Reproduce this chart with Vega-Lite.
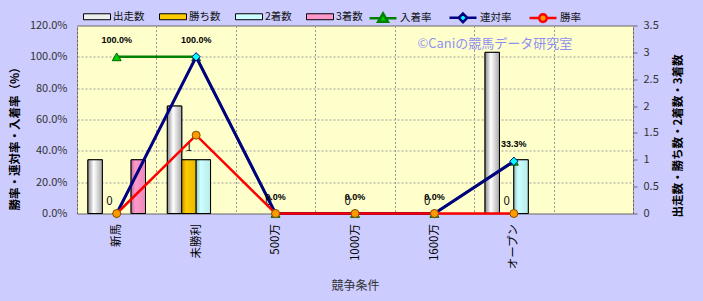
{
  "$schema": "https://vega.github.io/schema/vega-lite/v6.json",
  "width": 556,
  "height": 188,
  "autosize": {"type": "none"},
  "padding": {"left": 77, "top": 25.5, "right": 70, "bottom": 87.5},
  "background": "#CCCCFF",
  "config": {
    "font": "Noto Sans CJK JP",
    "view": {"fill": "#FFFFCC", "stroke": "#666666", "strokeWidth": 1}
  },
  "data": {
    "values": [
      {"cat": "新馬", "出走数": 1, "勝ち数": 0, "2着数": 0, "3着数": 1, "入着率": 1, "連対率": 0, "勝率": 0},
      {"cat": "未勝利", "出走数": 2, "勝ち数": 1, "2着数": 1, "3着数": 0, "入着率": 1, "連対率": 1, "勝率": 0.5},
      {"cat": "500万", "出走数": 0, "勝ち数": 0, "2着数": 0, "3着数": 0, "入着率": 0, "連対率": 0, "勝率": 0},
      {"cat": "1000万", "出走数": 0, "勝ち数": 0, "2着数": 0, "3着数": 0, "入着率": 0, "連対率": 0, "勝率": 0},
      {"cat": "1600万", "出走数": 0, "勝ち数": 0, "2着数": 0, "3着数": 0, "入着率": 0, "連対率": 0, "勝率": 0},
      {"cat": "オープン", "出走数": 3, "勝ち数": 0, "2着数": 1, "3着数": 0, "入着率": 0.333, "連対率": 0.333, "勝率": 0}
    ]
  },
  "layer": [
    {
      "transform": [{"fold": ["出走数", "勝ち数", "2着数", "3着数"], "as": ["key", "value"]}],
      "layer": [
        {
          "transform": [{"filter": "datum.value > 0"}],
          "mark": {"type": "bar", "stroke": "#000000", "strokeWidth": 1},
          "encoding": {
            "x": {
              "field": "cat", "type": "nominal",
              "scale": {"domain": ["新馬", "未勝利", "500万", "1000万", "1600万", "オープン", " "], "paddingInner": 0, "paddingOuter": 0},
              "axis": {
                "title": "競争条件", "labelAngle": 270, "labelPadding": 10, "labelFontSize": 11.5, "labelColor": "#000000",
                "ticks": false, "domain": false, "grid": true, "tickBand": "extent", "gridDash": [2, 2], "gridColor": "#999999",
                "titleFontSize": 12, "titleFontWeight": "normal", "titleColor": "#333333", "titleY": 72, "titleBaseline": "middle"
              }
            },
            "xOffset": {"field": "key", "type": "nominal", "scale": {"domain": ["出走数", "勝ち数", "2着数", "3着数"], "paddingInner": 0, "paddingOuter": 0.758}},
            "y": {
              "field": "value", "type": "quantitative",
              "scale": {"domain": [0, 3.5]},
              "axis": {
                "orient": "right", "values": [0, 0.5, 1, 1.5, 2, 2.5, 3, 3.5], "tickCount": 20, "format": "~g", "labelOverlap": false, "grid": false, "domain": false,
                "ticks": true, "tickSize": 4, "tickColor": "#666666", "labelPadding": 6, "labelFontSize": 11, "labelColor": "#333333",
                "title": "出走数・勝ち数・2着数・3着数", "titleFontSize": 11.5, "titleFontWeight": "bold", "titleColor": "#000000",
                "titleAngle": 270, "titleX": 45, "titleY": 110, "titleAlign": "center", "titleBaseline": "middle"
              }
            },
            "fill": {
              "field": "key", "type": "nominal",
              "scale": {"domain": ["出走数", "勝ち数", "2着数", "3着数"], "range": ["#EEEEEE", "#FFCC00", "#CCFFFF", "#FF99CC"]},
              "legend": {
                "title": null, "orient": "none", "legendX": 6, "legendY": -23, "direction": "horizontal",
                "symbolType": "M-1,-0.22H1V0.22H-1Z", "symbolSize": 729, "symbolStrokeColor": "#000000", "symbolStrokeWidth": 1,
                "labelFontSize": 10.5, "labelColor": "#111111", "labelOffset": 2, "columnPadding": 12, "padding": 0
              }
            }
          }
        },
        {
          "transform": [{"filter": "datum.key === '出走数' && datum.value > 0"}],
          "mark": {"type": "bar", "stroke": "#000000", "strokeWidth": 1,
            "fill": {"gradient": "linear", "x1": 0, "y1": 0, "x2": 1, "y2": 0,
              "stops": [{"offset": 0, "color": "#8A8A8A"}, {"offset": 0.4, "color": "#FFFFFF"}, {"offset": 1, "color": "#A8A8A8"}]}},
          "encoding": {
            "x": {"field": "cat", "type": "nominal", "scale": {"domain": ["新馬", "未勝利", "500万", "1000万", "1600万", "オープン", " "], "paddingInner": 0, "paddingOuter": 0}},
            "xOffset": {"field": "key", "type": "nominal", "scale": {"domain": ["出走数", "勝ち数", "2着数", "3着数"], "paddingInner": 0, "paddingOuter": 0.758}},
            "y": {"field": "value", "type": "quantitative", "scale": {"domain": [0, 3.5]}}
          }
        },
        {
          "transform": [{"filter": "datum.key === '勝ち数' && datum.value > 0"}],
          "mark": {"type": "bar", "stroke": "#000000", "strokeWidth": 1,
            "fill": {"gradient": "linear", "x1": 0, "y1": 0, "x2": 1, "y2": 0,
              "stops": [{"offset": 0, "color": "#C09000"}, {"offset": 0.3, "color": "#FFCC00"}, {"offset": 1, "color": "#E8B800"}]}},
          "encoding": {
            "x": {"field": "cat", "type": "nominal", "scale": {"domain": ["新馬", "未勝利", "500万", "1000万", "1600万", "オープン", " "], "paddingInner": 0, "paddingOuter": 0}},
            "xOffset": {"field": "key", "type": "nominal", "scale": {"domain": ["出走数", "勝ち数", "2着数", "3着数"], "paddingInner": 0, "paddingOuter": 0.758}},
            "y": {"field": "value", "type": "quantitative", "scale": {"domain": [0, 3.5]}}
          }
        },
        {
          "transform": [{"filter": "datum.key === '2着数' && datum.value > 0"}],
          "mark": {"type": "bar", "stroke": "#000000", "strokeWidth": 1,
            "fill": {"gradient": "linear", "x1": 0, "y1": 0, "x2": 1, "y2": 0,
              "stops": [{"offset": 0, "color": "#99C4C4"}, {"offset": 0.3, "color": "#CCFFFF"}, {"offset": 1, "color": "#B8EAEA"}]}},
          "encoding": {
            "x": {"field": "cat", "type": "nominal", "scale": {"domain": ["新馬", "未勝利", "500万", "1000万", "1600万", "オープン", " "], "paddingInner": 0, "paddingOuter": 0}},
            "xOffset": {"field": "key", "type": "nominal", "scale": {"domain": ["出走数", "勝ち数", "2着数", "3着数"], "paddingInner": 0, "paddingOuter": 0.758}},
            "y": {"field": "value", "type": "quantitative", "scale": {"domain": [0, 3.5]}}
          }
        },
        {
          "transform": [{"filter": "datum.key === '3着数' && datum.value > 0"}],
          "mark": {"type": "bar", "stroke": "#000000", "strokeWidth": 1,
            "fill": {"gradient": "linear", "x1": 0, "y1": 0, "x2": 1, "y2": 0,
              "stops": [{"offset": 0, "color": "#C0709A"}, {"offset": 0.3, "color": "#FF99CC"}, {"offset": 1, "color": "#E888B8"}]}},
          "encoding": {
            "x": {"field": "cat", "type": "nominal", "scale": {"domain": ["新馬", "未勝利", "500万", "1000万", "1600万", "オープン", " "], "paddingInner": 0, "paddingOuter": 0}},
            "xOffset": {"field": "key", "type": "nominal", "scale": {"domain": ["出走数", "勝ち数", "2着数", "3着数"], "paddingInner": 0, "paddingOuter": 0.758}},
            "y": {"field": "value", "type": "quantitative", "scale": {"domain": [0, 3.5]}}
          }
        },
        {
          "transform": [{"filter": "datum.key === '勝ち数'"}],
          "mark": {"type": "text", "dy": -12, "fontSize": 11.5, "color": "#111111"},
          "encoding": {
            "x": {"field": "cat", "type": "nominal", "scale": {"domain": ["新馬", "未勝利", "500万", "1000万", "1600万", "オープン", " "], "paddingInner": 0, "paddingOuter": 0}},
            "xOffset": {"field": "key", "type": "nominal", "scale": {"domain": ["出走数", "勝ち数", "2着数", "3着数"], "paddingInner": 0, "paddingOuter": 0.758}},
            "y": {"field": "value", "type": "quantitative", "scale": {"domain": [0, 3.5]}},
            "text": {"field": "value", "type": "quantitative"}
          }
        }
      ]
    },
    {
      "layer": [
        {
          "mark": {"type": "line", "strokeWidth": 2.5},
          "encoding": {
            "x": {"field": "cat", "type": "nominal", "scale": {"domain": ["新馬", "未勝利", "500万", "1000万", "1600万", "オープン", " "], "paddingInner": 0, "paddingOuter": 0}},
            "y": {
              "field": "入着率", "type": "quantitative", "scale": {"domain": [0, 1.2]},
              "axis": {
                "orient": "left", "values": [0, 0.2, 0.4, 0.6, 0.8, 1, 1.2], "tickCount": 20, "format": ".1%", "labelOverlap": false,
                "grid": true, "gridDash": [2, 2], "gridColor": "#999999",
                "gridOpacity": {"condition": {"test": "datum.value <= 0.001 || datum.value >= 1.199", "value": 0}, "value": 1},
                "ticks": false, "domain": false, "labelPadding": 10, "labelFontSize": 11, "labelColor": "#333333",
                "title": "勝率・連対率・入着率（%）", "titleFontSize": 11.5, "titleFontWeight": "bold", "titleColor": "#000000",
                "titleAngle": 270, "titleX": -62, "titleY": 110, "titleAlign": "center", "titleBaseline": "middle"
              }
            },
            "stroke": {
              "datum": "入着率", "type": "nominal",
              "scale": {"domain": ["入着率", "連対率", "勝率"], "range": ["#008000", "#000080", "#FF0000"]},
              "legend": {
                "title": null, "orient": "none", "legendX": 291, "legendY": -23, "direction": "horizontal",
                "symbolType": "stroke", "symbolSize": 729, "symbolStrokeWidth": 2.5,
                "labelFontSize": 10.5, "labelColor": "#111111", "labelOffset": 2, "columnPadding": 12, "padding": 0,
                "encode": {
                  "symbols": {
                    "update": {
                      "shape": {"signal": "datum.value === '入着率' ? 'M-1,0H-0.2M0.2,0H1M0,-0.36L0.36,0.26L-0.36,0.26Z' : datum.value === '連対率' ? 'M-1,0H-0.32M0.32,0H1M0,-0.32L0.32,0L0,0.32L-0.32,0Z' : 'M-1,0H-0.28M0.28,0H1M0.28,0A0.28,0.28,0,1,1,-0.28,0A0.28,0.28,0,1,1,0.28,0Z'"},
                      "fill": {"signal": "datum.value === '入着率' ? '#00CC00' : datum.value === '連対率' ? '#00FFFF' : '#FF9900'"}
                    }
                  }
                }
              }
            }
          }
        },
        {
          "mark": {"type": "point", "shape": "triangle-up", "filled": true, "fill": "#00CC00", "stroke": "#006600", "strokeWidth": 1, "size": 80, "opacity": 1},
          "encoding": {
            "x": {"field": "cat", "type": "nominal", "scale": {"domain": ["新馬", "未勝利", "500万", "1000万", "1600万", "オープン", " "], "paddingInner": 0, "paddingOuter": 0}},
            "y": {"field": "入着率", "type": "quantitative", "scale": {"domain": [0, 1.2]}}
          }
        },
        {
          "mark": {"type": "line", "strokeWidth": 3},
          "encoding": {
            "x": {"field": "cat", "type": "nominal", "scale": {"domain": ["新馬", "未勝利", "500万", "1000万", "1600万", "オープン", " "], "paddingInner": 0, "paddingOuter": 0}},
            "y": {"field": "連対率", "type": "quantitative", "scale": {"domain": [0, 1.2]}},
            "stroke": {"datum": "連対率", "type": "nominal"}
          }
        },
        {
          "mark": {"type": "point", "shape": "diamond", "filled": true, "fill": "#00FFFF", "stroke": "#000080", "strokeWidth": 1, "size": 70, "opacity": 1},
          "encoding": {
            "x": {"field": "cat", "type": "nominal", "scale": {"domain": ["新馬", "未勝利", "500万", "1000万", "1600万", "オープン", " "], "paddingInner": 0, "paddingOuter": 0}},
            "y": {"field": "連対率", "type": "quantitative", "scale": {"domain": [0, 1.2]}}
          }
        },
        {
          "mark": {"type": "line", "strokeWidth": 2.5},
          "encoding": {
            "x": {"field": "cat", "type": "nominal", "scale": {"domain": ["新馬", "未勝利", "500万", "1000万", "1600万", "オープン", " "], "paddingInner": 0, "paddingOuter": 0}},
            "y": {"field": "勝率", "type": "quantitative", "scale": {"domain": [0, 1.2]}},
            "stroke": {"datum": "勝率", "type": "nominal"}
          }
        },
        {
          "mark": {"type": "point", "shape": "circle", "filled": true, "fill": "#FF9900", "stroke": "#805000", "strokeWidth": 1, "size": 64, "opacity": 1},
          "encoding": {
            "x": {"field": "cat", "type": "nominal", "scale": {"domain": ["新馬", "未勝利", "500万", "1000万", "1600万", "オープン", " "], "paddingInner": 0, "paddingOuter": 0}},
            "y": {"field": "勝率", "type": "quantitative", "scale": {"domain": [0, 1.2]}}
          }
        },
        {
          "mark": {"type": "text", "dy": -17, "fontSize": 9, "fontWeight": "bold", "font": "Liberation Sans", "color": "#000000"},
          "encoding": {
            "x": {"field": "cat", "type": "nominal", "scale": {"domain": ["新馬", "未勝利", "500万", "1000万", "1600万", "オープン", " "], "paddingInner": 0, "paddingOuter": 0}},
            "y": {"field": "入着率", "type": "quantitative", "scale": {"domain": [0, 1.2]}},
            "text": {"field": "入着率", "type": "quantitative", "format": ".1%"}
          }
        },
        {
          "data": {"values": [{"t": "©Caniの競馬データ研究室"}]},
          "mark": {"type": "text", "dx": -19, "fontSize": 13, "color": "#9090F0"},
          "encoding": {
            "x": {"datum": "オープン", "type": "nominal", "scale": {"domain": ["新馬", "未勝利", "500万", "1000万", "1600万", "オープン", " "], "paddingInner": 0, "paddingOuter": 0}},
            "y": {"datum": 1.08, "type": "quantitative", "scale": {"domain": [0, 1.2]}},
            "text": {"field": "t", "type": "nominal"}
          }
        }
      ]
    }
  ],
  "resolve": {"scale": {"y": "independent"}}
}
